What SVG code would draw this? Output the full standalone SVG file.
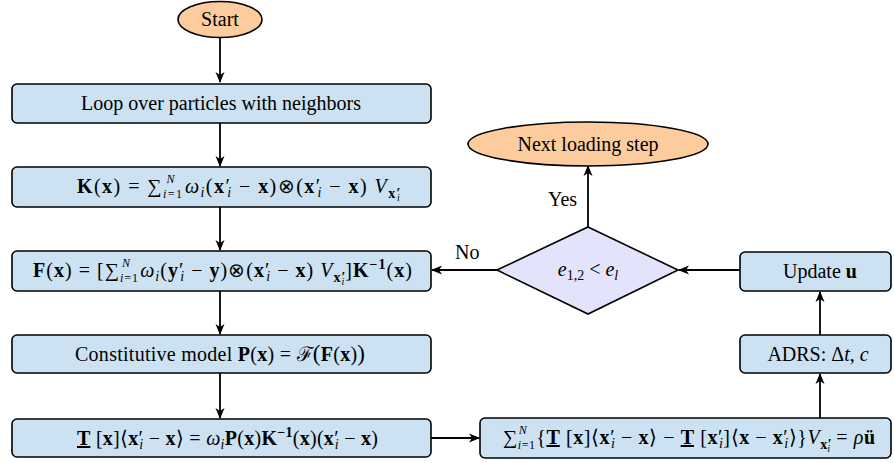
<svg xmlns="http://www.w3.org/2000/svg" width="894" height="463" viewBox="0 0 894 463">
<style>
.box{fill:#cce2f2;stroke:#000;stroke-width:1.6}
.ell{fill:#fccc9e;stroke:#000;stroke-width:1.6}
.dia{fill:#e3e3fb;stroke:#000;stroke-width:1.6}
.t{font-family:"Liberation Serif","Times New Roman",serif;font-size:20px;fill:#000}
.b{font-weight:bold}
.i{font-style:italic}
.s{font-size:14px}
.sm{font-size:12px}
.ss{font-size:10px}
.u{text-decoration:underline}
.c{stroke:#000;stroke-width:1.8;fill:none}
</style>
<defs>
<marker id="ah" markerWidth="12" markerHeight="10" refX="10" refY="5" orient="auto" markerUnits="userSpaceOnUse">
<path d="M0,0.5 L11,5 L0,9.5 L3,5 Z" fill="#000"/>
</marker>
</defs>
<g id="connectors">
<line class="c" x1="220" y1="38" x2="220" y2="82" marker-end="url(#ah)"/>
<line class="c" x1="220" y1="123" x2="220" y2="166" marker-end="url(#ah)"/>
<line class="c" x1="220" y1="207" x2="220" y2="250" marker-end="url(#ah)"/>
<line class="c" x1="220" y1="291" x2="220" y2="334" marker-end="url(#ah)"/>
<line class="c" x1="220" y1="373" x2="220" y2="418" marker-end="url(#ah)"/>
<line class="c" x1="431" y1="438" x2="479" y2="438" marker-end="url(#ah)"/>
<line class="c" x1="820" y1="418" x2="820" y2="374" marker-end="url(#ah)"/>
<line class="c" x1="820" y1="335" x2="820" y2="292" marker-end="url(#ah)"/>
<line class="c" x1="740" y1="270" x2="679" y2="270" marker-end="url(#ah)"/>
<line class="c" x1="497" y1="270" x2="432" y2="270" marker-end="url(#ah)"/>
<line class="c" x1="588" y1="227" x2="588" y2="166" marker-end="url(#ah)"/>
<text class="t" x="455" y="259">No</text>
<text class="t" x="548" y="206">Yes</text>
</g>
<g id="start">
<ellipse class="ell" cx="220" cy="19.5" rx="42" ry="18"/>
<text class="t" x="220" y="26" text-anchor="middle">Start</text>
</g>
<g id="loop">
<rect class="box" x="12" y="84" width="419" height="39" rx="5"/>
<text class="t" x="221" y="110" text-anchor="middle">Loop over particles with neighbors</text>
</g>
<g id="kbox">
<rect class="box" x="12" y="167" width="419" height="40" rx="5"/>
<text class="t" x="77" y="193" textLength="325" lengthAdjust="spacing"><tspan class="b">K</tspan>(<tspan class="b">x</tspan>) = ∑<tspan class="sm" dy="5"><tspan class="i">i</tspan>=1</tspan><tspan class="sm i" dx="-17" dy="-15">N</tspan><tspan class="i" dx="9" dy="10">ω</tspan><tspan class="s i" dy="4">i</tspan><tspan dy="-4">(</tspan><tspan class="b">x</tspan>′<tspan class="s i" dx="-4" dy="4">i</tspan><tspan dy="-4"> − </tspan><tspan class="b">x</tspan>)⊗(<tspan class="b">x</tspan>′<tspan class="s i" dx="-4" dy="4">i</tspan><tspan dy="-4"> − </tspan><tspan class="b">x</tspan>) <tspan class="i">V</tspan><tspan class="s b" dy="5">x′</tspan><tspan class="ss i" dx="-5" dy="3">i</tspan></text>
</g>
<g id="fbox">
<rect class="box" x="12" y="251" width="419" height="40" rx="5"/>
<text class="t" x="33" y="277" textLength="379" lengthAdjust="spacing"><tspan class="b">F</tspan>(<tspan class="b">x</tspan>) = [∑<tspan class="sm" dy="5"><tspan class="i">i</tspan>=1</tspan><tspan class="sm i" dx="-17" dy="-15">N</tspan><tspan class="i" dx="9" dy="10">ω</tspan><tspan class="s i" dy="4">i</tspan><tspan dy="-4">(</tspan><tspan class="b">y</tspan>′<tspan class="s i" dx="-4" dy="4">i</tspan><tspan dy="-4"> − </tspan><tspan class="b">y</tspan>)⊗(<tspan class="b">x</tspan>′<tspan class="s i" dx="-4" dy="4">i</tspan><tspan dy="-4"> − </tspan><tspan class="b">x</tspan>) <tspan class="i">V</tspan><tspan class="s b" dy="5">x′</tspan><tspan class="ss i" dx="-5" dy="3">i</tspan><tspan dy="-8">]</tspan><tspan class="b">K</tspan><tspan class="s b" dy="-8">−1</tspan><tspan dy="8">(</tspan><tspan class="b">x</tspan>)</text>
</g>
<g id="constitutive">
<rect class="box" x="12" y="335" width="419" height="38" rx="5"/>
<text class="t" x="75" y="361" textLength="290" lengthAdjust="spacing">Constitutive model <tspan class="b">P</tspan>(<tspan class="b">x</tspan>) = ℱ<tspan font-size="23">(</tspan><tspan class="b">F</tspan>(<tspan class="b">x</tspan>)<tspan font-size="23">)</tspan></text>
</g>
<g id="tbox">
<rect class="box" x="12" y="419" width="419" height="38" rx="5"/>
<text class="t" x="77" y="445" textLength="301" lengthAdjust="spacing"><tspan class="b u">T</tspan> [<tspan class="b">x</tspan>]⟨<tspan class="b">x</tspan>′<tspan class="s i" dx="-4" dy="4">i</tspan><tspan dy="-4"> − </tspan><tspan class="b">x</tspan>⟩ = <tspan class="i">ω</tspan><tspan class="s i" dy="4">i</tspan><tspan class="b" dy="-4">P</tspan>(<tspan class="b">x</tspan>)<tspan class="b">K</tspan><tspan class="s b" dy="-8">−1</tspan><tspan dy="8">(</tspan><tspan class="b">x</tspan>)(<tspan class="b">x</tspan>′<tspan class="s i" dx="-4" dy="4">i</tspan><tspan dy="-4"> − </tspan><tspan class="b">x</tspan>)</text>
</g>
<g id="sumbox">
<rect class="box" x="480" y="418" width="411" height="40" rx="5"/>
<text class="t" x="503" y="444" textLength="372" lengthAdjust="spacing">∑<tspan class="sm" dy="5"><tspan class="i">i</tspan>=1</tspan><tspan class="sm i" dx="-17" dy="-15">N</tspan><tspan dx="9" dy="10">{</tspan><tspan class="b u">T</tspan> [<tspan class="b">x</tspan>]⟨<tspan class="b">x</tspan>′<tspan class="s i" dx="-4" dy="4">i</tspan><tspan dy="-4"> − </tspan><tspan class="b">x</tspan>⟩ − <tspan class="b u">T</tspan> [<tspan class="b">x</tspan>′<tspan class="s i" dx="-4" dy="4">i</tspan><tspan dy="-4">]⟨</tspan><tspan class="b">x</tspan> − <tspan class="b">x</tspan>′<tspan class="s i" dx="-4" dy="4">i</tspan><tspan dy="-4">⟩}</tspan><tspan class="i">V</tspan><tspan class="s b" dy="5">x′</tspan><tspan class="ss i" dx="-5" dy="3">i</tspan><tspan dy="-8"> = </tspan><tspan class="i">ρ</tspan><tspan class="b">ü</tspan></text>
</g>
<g id="adrs">
<rect class="box" x="740" y="335" width="151" height="38" rx="5"/>
<text class="t" x="818" y="361" text-anchor="middle">ADRS: Δ<tspan class="i">t</tspan>, <tspan class="i">c</tspan></text>
</g>
<g id="update">
<rect class="box" x="740" y="252" width="151" height="39" rx="5"/>
<text class="t" x="820" y="278" text-anchor="middle">Update <tspan class="b">u</tspan></text>
</g>
<g id="decision">
<polygon class="dia" points="588,227 678,270 588,314 497,270"/>
<text class="t" x="588" y="276" text-anchor="middle"><tspan class="i">e</tspan><tspan class="s" dy="4">1,2</tspan><tspan dy="-4"> &lt; </tspan><tspan class="i">e</tspan><tspan class="s i" dy="4">l</tspan></text>
</g>
<g id="next">
<ellipse class="ell" cx="588" cy="144" rx="120" ry="22"/>
<text class="t" x="588" y="151" text-anchor="middle">Next loading step</text>
</g>
</svg>
